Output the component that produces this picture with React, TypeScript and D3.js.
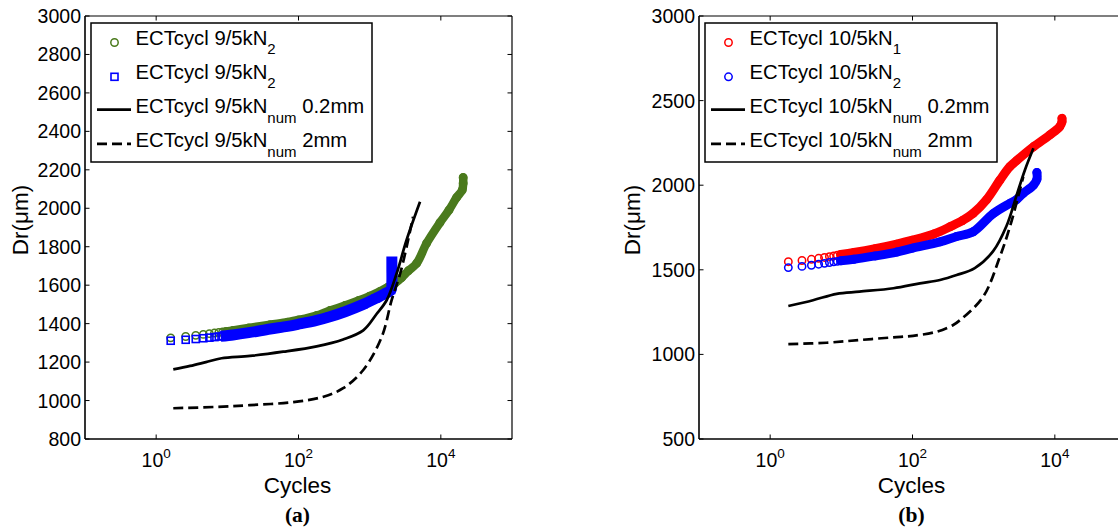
import React from 'react';
import * as d3 from 'd3';

type Pt = [number, number];

// ---------- axis ticks ----------
const xTickValues = [1, 100, 10000];
const xTickExponents = ['0', '2', '4'];
const yTicksA = [800, 1000, 1200, 1400, 1600, 1800, 2000, 2200, 2400, 2600, 2800, 3000];
const yTicksB = [500, 1000, 1500, 2000, 2500, 3000];

// ---------- panel (a): 9/5 kN ----------
const expA_green: Pt[] = [
  [1.6, 1326], [2.6, 1333], [3.6, 1339], [4.6, 1344], [5.6, 1348], [6.6, 1351], [7.6, 1354], [8.6, 1357], [9.6, 1359],
  [12, 1364], [20, 1378], [40, 1395], [70, 1408], [100, 1419], [180, 1442], [276, 1468], [450, 1494], [700, 1520],
  [1000, 1543], [1400, 1568], [1800, 1590], [2300, 1612], [2820, 1640], [3500, 1675], [4580, 1714], [6310, 1818],
  [9700, 1925], [13000, 1990], [16600, 2055], [20000, 2095], [20600, 2130], [20600, 2160],
];
const expA_blue: Pt[] = [
  [1.6, 1311], [2.6, 1316], [3.6, 1320], [4.6, 1324], [5.6, 1327], [6.6, 1330], [7.6, 1333], [8.6, 1335], [9.6, 1337],
  [12, 1341], [20, 1353], [40, 1372], [70, 1386], [100, 1397], [180, 1417], [276, 1436], [450, 1462], [813, 1500],
  [1200, 1530], [1740, 1560], [2000, 1575], [2050, 1620], [2050, 1680], [2050, 1720],
];
const numA_02: Pt[] = [
  [1.74, 1162], [3, 1180], [5, 1200], [8.3, 1220], [20.8, 1232], [61, 1254], [180, 1282], [424, 1318],
  [813, 1365], [1250, 1450], [1740, 1523], [2400, 1662], [3300, 1835], [5100, 2034],
];
const numA_2: Pt[] = [
  [1.74, 960], [7.1, 967], [20.8, 976], [85, 992], [225, 1020], [424, 1064], [813, 1159], [1480, 1332],
  [2040, 1523], [2690, 1662], [3470, 1835], [4070, 1956],
];

// ---------- panel (b): 10/5 kN ----------
const expB_red: Pt[] = [
  [1.8, 1548], [2.8, 1555], [3.8, 1562], [4.8, 1568], [5.8, 1573], [6.8, 1578], [7.8, 1582], [8.8, 1586], [9.8, 1590],
  [15, 1602], [30, 1625], [60, 1652], [100, 1675], [200, 1712], [340, 1755], [500, 1790], [713, 1834], [1100, 1915],
  [1690, 2030], [2340, 2110], [2900, 2145], [5000, 2227], [8500, 2297], [11700, 2346], [12600, 2375], [12600, 2395],
];
const expB_blue: Pt[] = [
  [1.8, 1513], [2.8, 1520], [3.8, 1527], [4.8, 1533], [5.8, 1538], [6.8, 1543], [7.8, 1547], [8.8, 1550], [9.8, 1553],
  [15, 1562], [30, 1582], [60, 1605], [100, 1628], [243, 1665], [417, 1697], [713, 1725], [1360, 1832], [2340, 1893],
  [2900, 1915], [3590, 1952], [5000, 2000], [5600, 2035], [5600, 2075],
];
const numB_02: Pt[] = [
  [1.8, 1286], [4, 1320], [8.6, 1358], [18, 1371], [54, 1391], [127, 1420], [243, 1440], [417, 1469],
  [750, 1510], [1360, 1610], [2100, 1760], [2900, 1940], [3800, 2090], [5000, 2218],
];
const numB_2: Pt[] = [
  [1.8, 1061], [6.2, 1069], [18, 1085], [54, 1101], [102, 1110], [218, 1134], [373, 1174], [467, 1203],
  [984, 1341], [1690, 1577], [2340, 1755], [3050, 1932], [3600, 2050],
];

const legendA = [
  { main: 'ECTcycl 9/5kN', sub: '2', tail: '' },
  { main: 'ECTcycl 9/5kN', sub: '2', tail: '' },
  { main: 'ECTcycl 9/5kN', sub: 'num', tail: ' 0.2mm' },
  { main: 'ECTcycl 9/5kN', sub: 'num', tail: ' 2mm' },
];
const legendB = [
  { main: 'ECTcycl 10/5kN', sub: '1', tail: '' },
  { main: 'ECTcycl 10/5kN', sub: '2', tail: '' },
  { main: 'ECTcycl 10/5kN', sub: 'num', tail: ' 0.2mm' },
  { main: 'ECTcycl 10/5kN', sub: 'num', tail: ' 2mm' },
];

const FONT = '"Liberation Sans", Arial, Helvetica, sans-serif';
const GREEN = '#4a7a1c';
const BLUE = '#0000ff';
const RED = '#ff0000';

type Series = {
  data: Pt[];
  kind: 'circle' | 'square' | 'solid' | 'dashed';
  color: string;
  band?: number;
};

type PanelProps = {
  left: number;
  right: number;
  top: number;
  bottom: number;
  yDomain: [number, number];
  yTicks: number[];
  series: Series[];
  legend: { main: string; sub: string; tail: string }[];
  legendBox: { x: number; y: number; w: number; h: number };
  yLabelX: number;
  caption: string;
};

const BAND_FROM = 9;

function Marker({ kind, color, x, y }: { kind: string; color: string; x: number; y: number }) {
  if (kind === 'circle') return <circle cx={x} cy={y} r={3.7} fill="none" stroke={color} strokeWidth={1.5} />;
  if (kind === 'square')
    return <rect x={x - 3.5} y={y - 3.5} width={7} height={7} fill="none" stroke={color} strokeWidth={1.6} />;
  return null;
}

function Panel(p: PanelProps) {
  const x = d3.scaleLog().domain([0.1, 1e5]).range([p.left, p.right]);
  const y = d3.scaleLinear().domain(p.yDomain).range([p.bottom, p.top]);
  const line = d3
    .line<Pt>()
    .x((d) => x(d[0]))
    .y((d) => y(d[1]))
    .curve(d3.curveCatmullRom.alpha(0.5));
  const tl = 4.5;
  const rowH = 34.3;
  return (
    <g>
      {/* data */}
      {p.series.map((s, i) => {
        if (s.kind === 'circle' || s.kind === 'square') {
          const bandPts = s.data.filter((d) => d[0] >= BAND_FROM);
          return (
            <g key={i}>
              {s.data.map((d, j) => (
                <Marker key={j} kind={s.kind} color={s.color} x={x(d[0])} y={y(d[1])} />
              ))}
              <path
                d={line(bandPts) || ''}
                fill="none"
                stroke={s.color}
                strokeWidth={s.band}
                strokeLinecap={s.kind === 'square' ? 'square' : 'round'}
                strokeLinejoin="round"
              />
            </g>
          );
        }
        return (
          <path
            key={i}
            d={line(s.data) || ''}
            fill="none"
            stroke={s.color}
            strokeWidth={2.7}
            strokeDasharray={s.kind === 'dashed' ? '10,5' : undefined}
          />
        );
      })}
      {/* axes box */}
      <line x1={p.left} x2={p.right} y1={p.bottom} y2={p.bottom} stroke="#000" strokeWidth={1.6} />
      <line x1={p.left} x2={p.right} y1={p.top} y2={p.top} stroke="#000" strokeWidth={1.2} />
      <line x1={p.left} x2={p.left} y1={p.top} y2={p.bottom} stroke="#000" strokeWidth={1.6} />
      <line x1={p.right} x2={p.right} y1={p.top} y2={p.bottom} stroke="#000" strokeWidth={1.2} />
      {xTickValues.map((v, i) => (
        <g key={'xt' + i}>
          <line x1={x(v)} x2={x(v)} y1={p.bottom} y2={p.bottom - tl} stroke="#000" strokeWidth={1} />
          <line x1={x(v)} x2={x(v)} y1={p.top} y2={p.top + tl} stroke="#000" strokeWidth={1} />
          <text x={x(v)} y={467} textAnchor="middle" fontFamily={FONT} fontSize={19.5} style={{ whiteSpace: 'pre' }}>
            <tspan>10</tspan>
            <tspan fontSize={13.5} dy={-9}>
              {xTickExponents[i]}
            </tspan>
          </text>
        </g>
      ))}
      {p.yTicks.map((v, i) => (
        <g key={'yt' + i}>
          <line x1={p.left} x2={p.left + tl} y1={y(v)} y2={y(v)} stroke="#000" strokeWidth={1} />
          <line x1={p.right} x2={p.right - tl} y1={y(v)} y2={y(v)} stroke="#000" strokeWidth={1} />
          <text x={p.left - 4} y={y(v) + 7} textAnchor="end" fontFamily={FONT} fontSize={19.5}>
            {v}
          </text>
        </g>
      ))}
      {/* axis labels */}
      <text x={x(100) - 1} y={493} textAnchor="middle" fontFamily={FONT} fontSize={22.5}>
        Cycles
      </text>
      <text
        transform={`translate(${p.yLabelX},220) rotate(-90)`}
        textAnchor="middle"
        fontFamily={FONT}
        fontSize={22.5}
      >
        Dr(μm)
      </text>
      <text
        x={x(100) - 1}
        y={522}
        textAnchor="middle"
        fontFamily='"Liberation Serif", "Times New Roman", serif'
        fontWeight="bold"
        fontSize={21.5}
      >
        {p.caption}
      </text>
      {/* legend */}
      <rect
        x={p.legendBox.x}
        y={p.legendBox.y}
        width={p.legendBox.w}
        height={p.legendBox.h}
        fill="#fff"
        stroke="#000"
        strokeWidth={1.5}
      />
      {p.legend.map((e, i) => {
        const base = p.legendBox.y + 21.5 + i * rowH;
        const s = p.series[i];
        const mx = p.legendBox.x + 23.5;
        return (
          <g key={'lg' + i}>
            {s.kind === 'circle' || s.kind === 'square' ? (
              <Marker kind={s.kind} color={s.color} x={mx} y={base - 2} />
            ) : (
              <line
                x1={p.legendBox.x + 6}
                x2={p.legendBox.x + 40}
                y1={base - 3.5}
                y2={base - 3.5}
                stroke={s.color}
                strokeWidth={2.7}
                strokeDasharray={s.kind === 'dashed' ? '10,5' : undefined}
              />
            )}
            <text x={p.legendBox.x + 44.5} y={base} fontFamily={FONT} fontSize={20.3} style={{ whiteSpace: 'pre' }}>
              <tspan>{e.main}</tspan>
              <tspan fontSize={15} dy={9.5}>
                {e.sub}
              </tspan>
              {e.tail ? <tspan dy={-9.5}>{e.tail}</tspan> : null}
            </text>
          </g>
        );
      })}
    </g>
  );
}

export default function App() {
  return (
    <svg
      width={1118}
      height={530}
      viewBox="0 0 1118 530"
      style={{ position: 'absolute', left: 0, top: 0, background: '#fff' }}
    >
      <rect x={0} y={0} width={1118} height={530} fill="#fff" />
      <Panel
        left={85}
        right={512}
        top={16}
        bottom={439}
        yDomain={[800, 3000]}
        yTicks={yTicksA}
        series={[
          { data: expA_green, kind: 'circle', color: GREEN, band: 8.5 },
          { data: expA_blue, kind: 'square', color: BLUE, band: 11 },
          { data: numA_02, kind: 'solid', color: '#000' },
          { data: numA_2, kind: 'dashed', color: '#000' },
        ]}
        legend={legendA}
        legendBox={{ x: 91, y: 23, w: 281, h: 139 }}
        yLabelX={28}
        caption="(a)"
      />
      <Panel
        left={699}
        right={1126}
        top={16}
        bottom={439}
        yDomain={[500, 3000]}
        yTicks={yTicksB}
        series={[
          { data: expB_red, kind: 'circle', color: RED, band: 9 },
          { data: expB_blue, kind: 'circle', color: BLUE, band: 9 },
          { data: numB_02, kind: 'solid', color: '#000' },
          { data: numB_2, kind: 'dashed', color: '#000' },
        ]}
        legend={legendB}
        legendBox={{ x: 705, y: 23, w: 292, h: 139 }}
        yLabelX={640}
        caption="(b)"
      />
    </svg>
  );
}
